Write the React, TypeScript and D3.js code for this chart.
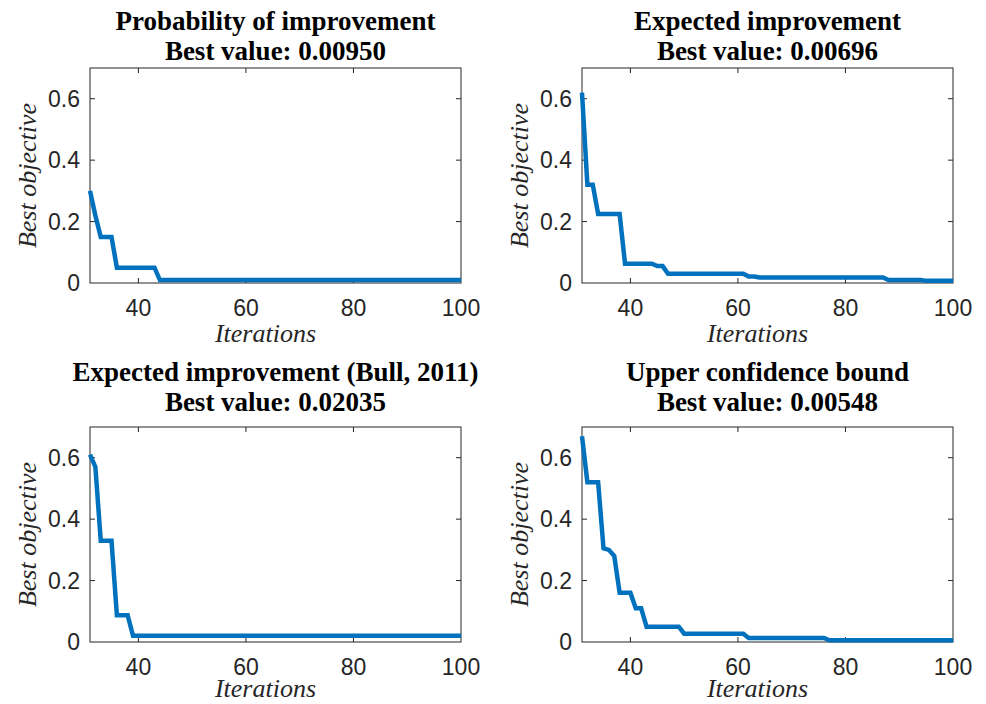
import React from "react";
import * as d3 from "d3";

// ---- Data ----
const titles = [
  "Probability of improvement",
  "Expected improvement",
  "Expected improvement (Bull, 2011)",
  "Upper confidence bound",
];
const bestValues = ["0.00950", "0.00696", "0.02035", "0.00548"];

const iterPI = [31, 32, 33, 35, 36, 43, 44, 100];
const valPI = [0.3, 0.22, 0.15, 0.15, 0.05, 0.05, 0.0095, 0.0095];

const iterEI = [31, 32, 33, 34, 38, 39, 44, 45, 46, 47, 61, 62, 63, 64, 87, 88, 94, 95, 100];
const valEI = [0.62, 0.32, 0.32, 0.225, 0.225, 0.063, 0.063, 0.055, 0.055, 0.03, 0.03, 0.021, 0.021, 0.018, 0.018, 0.01, 0.01, 0.00696, 0.00696];

const iterBull = [31, 32, 33, 35, 36, 38, 39, 100];
const valBull = [0.61, 0.57, 0.33, 0.33, 0.087, 0.087, 0.02035, 0.02035];

const iterUCB = [31, 32, 34, 35, 36, 37, 38, 40, 41, 42, 43, 49, 50, 61, 62, 76, 77, 100];
const valUCB = [0.67, 0.52, 0.52, 0.305, 0.3, 0.28, 0.16, 0.16, 0.11, 0.11, 0.05, 0.05, 0.027, 0.027, 0.013, 0.013, 0.00548, 0.00548];

const xTicks = [40, 60, 80, 100];
const yTicks = [0, 0.2, 0.4, 0.6];
const xDomain = [31, 100];
const yDomain = [0, 0.7];

const seriesIters = [iterPI, iterEI, iterBull, iterUCB];
const seriesVals = [valPI, valEI, valBull, valUCB];

// ---- Layout ----
const panels = [
  { x0: 90, x1: 461, y0: 68, y1: 283, t1: 30, t2: 60, xl: 342 },
  { x0: 582, x1: 953, y0: 68, y1: 283, t1: 30, t2: 60, xl: 342 },
  { x0: 90, x1: 461, y0: 427, y1: 642, t1: 381, t2: 411, xl: 697 },
  { x0: 582, x1: 953, y0: 427, y1: 642, t1: 381, t2: 411, xl: 697 },
];

const AXIS = "#262626";
const BLUE = "#0072BD";

function Panel({ idx }: { idx: number }) {
  const p = panels[idx];
  const x = d3.scaleLinear().domain(xDomain).range([p.x0, p.x1]);
  const y = d3.scaleLinear().domain(yDomain).range([p.y1, p.y0]);
  const its = seriesIters[idx];
  const vals = seriesVals[idx];
  const pts: [number, number][] = its.map((it, i) => [it, vals[i]]);
  const line = d3
    .line<[number, number]>()
    .x((d) => x(d[0]))
    .y((d) => y(d[1]));
  const tl = 5;
  const cx = (p.x0 + p.x1) / 2;
  const cy = (p.y0 + p.y1) / 2;
  return (
    <g>
      <text x={cx} y={p.t1} textAnchor="middle" fontFamily="'Liberation Serif', 'Times New Roman', serif" fontWeight="bold" fontSize={27} fill="#000">
        {titles[idx]}
      </text>
      <text x={cx} y={p.t2} textAnchor="middle" fontFamily="'Liberation Serif', 'Times New Roman', serif" fontWeight="bold" fontSize={27} fill="#000">
        {"Best value: " + bestValues[idx]}
      </text>
      {/* box */}
      <rect x={p.x0} y={p.y0} width={p.x1 - p.x0} height={p.y1 - p.y0} fill="#fff" stroke={AXIS} strokeWidth={1} />
      {/* x ticks */}
      {xTicks.map((t) => (
        <g key={"x" + t}>
          {t < xDomain[1] && (
            <>
              <line x1={x(t)} x2={x(t)} y1={p.y1} y2={p.y1 - tl} stroke={AXIS} />
              <line x1={x(t)} x2={x(t)} y1={p.y0} y2={p.y0 + tl} stroke={AXIS} />
            </>
          )}
          <text x={x(t)} y={p.y1 + 33} textAnchor="middle" fontFamily="'Liberation Sans', Arial, sans-serif" fontSize={23} fill={AXIS}>
            {t}
          </text>
        </g>
      ))}
      {/* y ticks */}
      {yTicks.map((t) => (
        <g key={"y" + t}>
          {t > 0 && (
            <>
              <line x1={p.x0} x2={p.x0 + tl} y1={y(t)} y2={y(t)} stroke={AXIS} />
              <line x1={p.x1} x2={p.x1 - tl} y1={y(t)} y2={y(t)} stroke={AXIS} />
            </>
          )}
          <text x={p.x0 - 10} y={y(t)} dy="0.36em" textAnchor="end" fontFamily="'Liberation Sans', Arial, sans-serif" fontSize={23} fill={AXIS}>
            {t === 0 ? "0" : t.toFixed(1)}
          </text>
        </g>
      ))}
      {/* series */}
      <path d={line(pts) || ""} fill="none" stroke={BLUE} strokeWidth={4.5} strokeLinejoin="miter" />
      {/* axis labels */}
      <text x={cx - 10} y={p.xl} textAnchor="middle" fontFamily="'Liberation Serif', 'Times New Roman', serif" fontStyle="italic" fontSize={26} fill={AXIS}>
        Iterations
      </text>
      <text
        transform={`translate(${p.x0 - 63},${cy}) rotate(-90)`}
        textAnchor="middle"
        dy="0.35em"
        fontFamily="'Liberation Serif', 'Times New Roman', serif"
        fontStyle="italic"
        fontSize={26}
        fill={AXIS}
      >
        Best objective
      </text>
    </g>
  );
}

export default function App() {
  return (
    <svg width={986} height={704} style={{ position: "absolute", left: 0, top: 0, background: "#fff" }}>
      <rect width={986} height={704} fill="#fff" />
      {panels.map((_, i) => (
        <Panel key={i} idx={i} />
      ))}
    </svg>
  );
}
